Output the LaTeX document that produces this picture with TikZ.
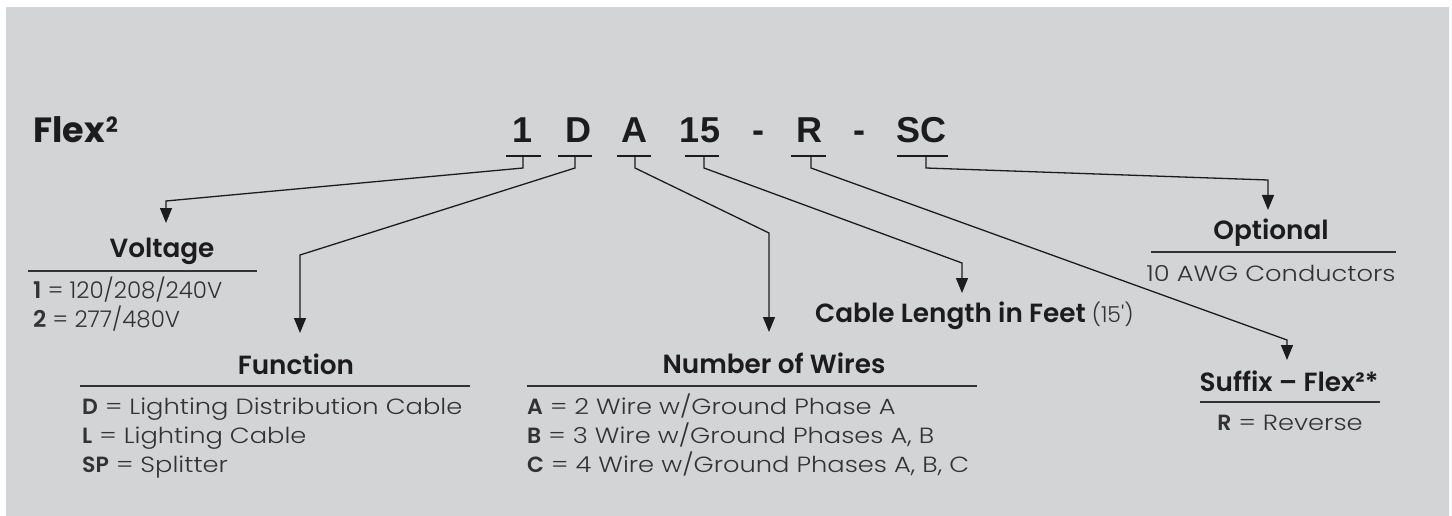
\documentclass[tikz,border=0pt]{standalone}
\usepackage{fontspec}
\setmainfont{Poppins}
\newfontfamily\codefont{Liberation Sans}
\newfontfamily\headfont{Poppins SemiBold}
\newfontfamily\lightfont[FakeStretch=1.17]{Poppins Light}
\newfontfamily\numfont{Poppins Light}
\usetikzlibrary{arrows.meta}
\definecolor{panel}{RGB}{211,212,214}
\definecolor{ink}{RGB}{28,28,30}
\definecolor{bodyink}{RGB}{50,50,52}
\newcommand\keyl[1]{{\headfont #1}}

\begin{document}
\begin{tikzpicture}[x=1pt,y=-1pt,
    code/.style={font=\codefont\bfseries\fontsize{36}{36}\selectfont, text=ink, anchor=base, inner sep=0pt},
    head/.style={font=\headfont\fontsize{26.3}{26.3}\selectfont, text=ink, anchor=base, inner sep=0pt},
    body/.style={font=\lightfont\fontsize{22}{22}\selectfont, text=bodyink, anchor=base west, inner sep=0pt},
    rule/.style={draw=bodyink, line width=1.2pt},
    lead/.style={draw=ink, line width=1.3pt},
    pick/.style={lead, -{Triangle[length=15pt,width=12pt]}}]
	\useasboundingbox (0,0) rectangle (1452,516);
	\fill[white] (0,0) rectangle (1452,516);
	\fill[panel] (6,7) rectangle (1449,516);

	\node[anchor=base west, inner sep=0pt, text=ink, font=\bfseries\fontsize{35}{35}\selectfont] (title) at (33,143) {Flex\kern1pt\raisebox{10pt}{\fontsize{21}{21}\selectfont 2}};

	% part number
	\node[code] (c1) at (523,143) {1};
	\node[code] (cD) at (578,143) {D};
	\node[code] (cA) at (634,143) {A};
	\node[code] (c15) at (700,143) {15};
	\node[code] (dash1) at (758,143) {-};
	\node[code] (cR) at (809,143) {R};
	\node[code] (dash2) at (859,143) {-};
	\node[code] (cSC) at (921,143) {SC};

	\draw[lead] (506,156) -- (541,156);
	\draw[lead] (558,156) -- (592,156);
	\draw[lead] (617,156) -- (651,156);
	\draw[lead] (685,156) -- (719,156);
	\draw[lead] (791,156) -- (826,156);
	\draw[lead] (897,156) -- (948,156);

	\coordinate (u1) at (523,156);
	\coordinate (uD) at (575,156);
	\coordinate (uA) at (635,156);
	\coordinate (u15) at (704,156);
	\coordinate (uR) at (811,156);
	\coordinate (uSC) at (926,156);

	% voltage
	\node[head] (volt) at (162,257) {Voltage};
	\draw[rule] (28,271) -- (257,271);
	\node[body, font=\numfont\fontsize{23}{23}\selectfont] (volt1) at (33,298) {\keyl{1} = 120/208/240V};
	\node[body, font=\numfont\fontsize{23}{23}\selectfont] (volt2) at (33,327) {\keyl{2} = 277/480V};

	% function
	\node[head] (func) at (296,374) {Function};
	\draw[rule] (80,386) -- (470,386);
	\node[body] (func1) at (82,414) {\keyl{D} = Lighting Distribution Cable};
	\node[body] (func2) at (82,443) {\keyl{L} = Lighting Cable};
	\node[body] (func3) at (82,472) {\keyl{SP} = Splitter};

	% wires
	\node[head] (wire) at (774,373) {Number of Wires};
	\draw[rule] (527,386) -- (977,386);
	\node[body] (wire1) at (527,414) {\keyl{A} = 2 Wire w/Ground Phase A};
	\node[body] (wire2) at (527,443) {\keyl{B} = 3 Wire w/Ground Phases A, B};
	\node[body] (wire3) at (527,472) {\keyl{C} = 4 Wire w/Ground Phases A, B, C};

	% length
	\node[body, font=\numfont\fontsize{22}{22}\selectfont] (len) at (815,322) {{\headfont\fontsize{26.3}{26.3}\selectfont\color{ink}Cable Length in Feet} (15')};

	% optional
	\node[head] (opt) at (1271,240) {Optional};
	\draw[rule] (1151,252) -- (1396,252);
	\node[body, anchor=base] (opt1) at (1271,281) {10 AWG Conductors};

	% suffix
	\node[head] (suf) at (1289,391) {Suffix – Flex²*};
	\draw[rule] (1200,402) -- (1380,402);
	\node[body, anchor=base] (suf1) at (1290,430) {\keyl{R} = Reverse};

	% leaders
	\coordinate (bV) at (166,201);
	\coordinate (aV) at (166,223);
	\coordinate (bF) at (300,255);
	\coordinate (aF) at (300,333);
	\coordinate (bW) at (769,233);
	\coordinate (aW) at (769,332);
	\coordinate (bL) at (962,263);
	\coordinate (aL) at (962,293);
	\coordinate (bS) at (1287,340);
	\coordinate (aS) at (1287,360);
	\coordinate (bO) at (1268,180);
	\coordinate (aO) at (1268,210);

	\draw[pick] (u1) -- ++(0,12) -- (bV) -- (aV);
	\draw[pick] (uD) -- ++(0,12) -- (bF) -- (aF);
	\draw[pick] (uA) -- ++(0,12) -- (bW) -- (aW);
	\draw[pick] (u15) -- ++(0,12) -- (bL) -- (aL);
	\draw[pick] (uR) -- ++(0,12) -- (bS) -- (aS);
	\draw[pick] (uSC) -- ++(0,12) -- (bO) -- (aO);

\end{tikzpicture}
\end{document}
